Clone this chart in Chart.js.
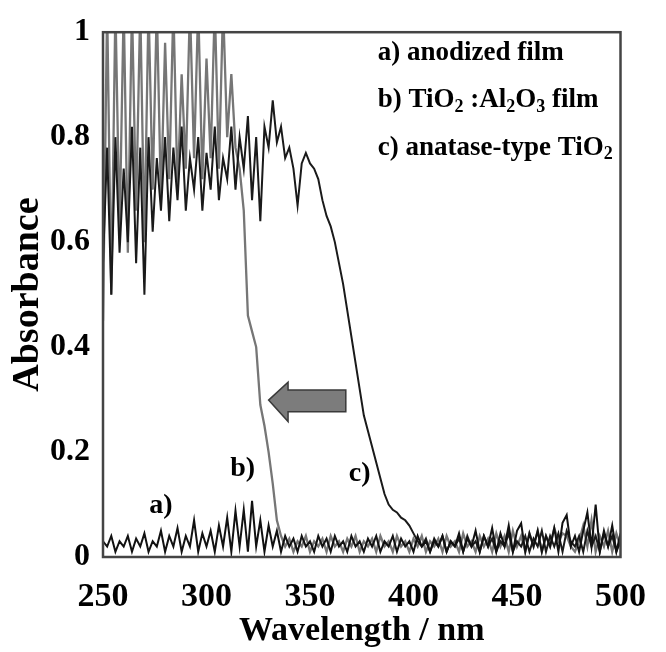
<!DOCTYPE html>
<html>
<head>
<meta charset="utf-8">
<script src="https://cdn.jsdelivr.net/npm/chart.js@4"></script>
<style>
  html, body { margin: 0; padding: 0; background: #fff; }
  #wrap { width: 666px; height: 652px; }
</style>
</head>
<body>
<div id="wrap"><canvas id="myChart" width="666" height="652"></canvas></div>
<script>
// wavelengths (nm), one reading every 2 nm
const wavelengths = [
  250, 252, 254, 256, 258, 260, 262, 264, 266, 268,
  270, 272, 274, 276, 278, 280, 282, 284, 286, 288,
  290, 292, 294, 296, 298, 300, 302, 304, 306, 308,
  310, 312, 314, 316, 318, 320, 322, 324, 326, 328,
  330, 332, 334, 336, 338, 340, 342, 344, 346, 348,
  350, 352, 354, 356, 358, 360, 362, 364, 366, 368,
  370, 372, 374, 376, 378, 380, 382, 384, 386, 388,
  390, 392, 394, 396, 398, 400, 402, 404, 406, 408,
  410, 412, 414, 416, 418, 420, 422, 424, 426, 428,
  430, 432, 434, 436, 438, 440, 442, 444, 446, 448,
  450, 452, 454, 456, 458, 460, 462, 464, 466, 468,
  470, 472, 474, 476, 478, 480, 482, 484, 486, 488,
  490, 492, 494, 496, 498, 500
];

// a) anodized film
const anodizedFilm = [
  0.03, 0.02, 0.04, 0.01, 0.03, 0.02, 0.04, 0.01, 0.035, 0.02,
  0.045, 0.01, 0.03, 0.02, 0.05, 0.01, 0.04, 0.02, 0.055, 0.01,
  0.04, 0.02, 0.07, 0.01, 0.045, 0.02, 0.05, 0.01, 0.06, 0.02,
  0.075, 0.01, 0.088, 0.02, 0.09, 0.01, 0.107, 0.02, 0.07, 0.01,
  0.06, 0.02, 0.05, 0.01, 0.04, 0.02, 0.035, 0.01, 0.04, 0.02,
  0.03, 0.01, 0.04, 0.02, 0.035, 0.01, 0.04, 0.02, 0.03, 0.01,
  0.04, 0.02, 0.03, 0.01, 0.035, 0.02, 0.04, 0.01, 0.03, 0.02,
  0.04, 0.01, 0.035, 0.02, 0.03, 0.01, 0.04, 0.02, 0.03, 0.01,
  0.035, 0.02, 0.04, 0.01, 0.03, 0.02, 0.045, 0.01, 0.035, 0.02,
  0.05, 0.01, 0.04, 0.02, 0.055, 0.01, 0.045, 0.02, 0.06, 0.01,
  0.05, 0.064, 0.01, 0.045, 0.02, 0.05, 0.01, 0.04, 0.02, 0.055,
  0.01, 0.065, 0.08, 0.02, 0.04, 0.01, 0.05, 0.085, 0.02, 0.1,
  0.01, 0.05, 0.02, 0.06, 0.01, 0.045
];

// b) TiO2:Al2O3 film (values above 1 are cut off by the frame)
const tioAlFilm = [
  0.45, 1.05, 0.5, 1.05, 0.62, 1.05, 0.58, 1.05, 0.66, 1.05,
  0.6, 1.05, 0.7, 1.05, 0.68, 0.98, 0.72, 1.05, 0.7, 0.92,
  0.74, 1.05, 0.76, 1.05, 0.72, 0.95, 0.76, 1.05, 0.74, 1.05,
  0.8, 0.92, 0.78, 0.74, 0.66, 0.46, 0.43, 0.4, 0.29, 0.25,
  0.2, 0.14, 0.07, 0.04, 0.02, 0.035, 0.01, 0.03, 0.02, 0.04,
  0.01, 0.03, 0.02, 0.035, 0.01, 0.04, 0.02, 0.03, 0.01, 0.035,
  0.02, 0.04, 0.01, 0.03, 0.02, 0.035, 0.01, 0.04, 0.02, 0.03,
  0.01, 0.04, 0.02, 0.03, 0.01, 0.035, 0.02, 0.04, 0.01, 0.03,
  0.02, 0.035, 0.01, 0.04, 0.02, 0.03, 0.01, 0.045, 0.02, 0.03,
  0.01, 0.04, 0.02, 0.035, 0.01, 0.045, 0.02, 0.04, 0.01, 0.05,
  0.02, 0.04, 0.01, 0.045, 0.02, 0.05, 0.01, 0.04, 0.02, 0.055,
  0.03, 0.045, 0.04, 0.02, 0.01, 0.03, 0.06, 0.02, 0.07, 0.01,
  0.04, 0.02, 0.05, 0.01, 0.045, 0.02
];

// c) anatase-type TiO2
const anatase = [
  0.56, 0.78, 0.5, 0.8, 0.58, 0.74, 0.6, 0.82, 0.56, 0.78,
  0.5, 0.8, 0.62, 0.76, 0.66, 0.8, 0.64, 0.78, 0.68, 0.82,
  0.66, 0.76, 0.7, 0.8, 0.66, 0.77, 0.7, 0.82, 0.68, 0.76,
  0.72, 0.82, 0.7, 0.8, 0.74, 0.84, 0.68, 0.8, 0.64, 0.82,
  0.78, 0.87, 0.79, 0.82, 0.76, 0.78, 0.74, 0.67, 0.75, 0.77,
  0.75, 0.74, 0.72, 0.68, 0.65, 0.63, 0.6, 0.56, 0.52, 0.47,
  0.42, 0.37, 0.32, 0.27, 0.24, 0.21, 0.18, 0.15, 0.12, 0.1,
  0.09, 0.085, 0.075, 0.07, 0.06, 0.045, 0.03, 0.02, 0.035, 0.01,
  0.03, 0.02, 0.04, 0.01, 0.03, 0.02, 0.035, 0.01, 0.04, 0.02,
  0.03, 0.01, 0.04, 0.02, 0.035, 0.01, 0.03, 0.02, 0.045, 0.01,
  0.03, 0.02, 0.04, 0.01, 0.035, 0.02, 0.05, 0.01, 0.04, 0.02,
  0.045, 0.01, 0.05, 0.03, 0.02, 0.04, 0.01, 0.05, 0.02, 0.04,
  0.01, 0.045, 0.02, 0.04, 0.01, 0.03
];

const yTicks = [0, 0.2, 0.4, 0.6, 0.8, 1];

// text annotations, placed in data units
const curveLabels = [
  { text: 'a)', x: 278, y: 0.098 },
  { text: 'b)', x: 317.5, y: 0.168 },
  { text: 'c)', x: 374, y: 0.158 }
];
const legendLines = [
  { y: 0.96, parts: [['a) anodized film', 0]] },
  { y: 0.87, parts: [['b) TiO', 0], ['2', 1], [' :Al', 0], ['2', 1], ['O', 0], ['3', 1], [' film', 0]] },
  { y: 0.78, parts: [['c) anatase-type TiO', 0], ['2', 1]] }
];
const legendX = 382.7;
// arrow pointing from c) towards b)
const arrowShape = [
  [330, 0.299], [339.4, 0.333], [339.4, 0.318], [367.3, 0.318],
  [367.3, 0.277], [339.4, 0.277], [339.4, 0.258]
];

const FONT = '"Liberation Serif", "Times New Roman", serif';

function toPoints(values) {
  return wavelengths.map((w, i) => ({ x: w, y: values[i] }));
}

// frame, arrow and labels drawn on top of the curves
const decorPlugin = {
  id: 'decor',
  afterDatasetsDraw(chart) {
    const { ctx, chartArea: a, scales: { x, y } } = chart;
    ctx.save();

    // arrow
    ctx.beginPath();
    arrowShape.forEach(([px, py], i) => {
      const X = x.getPixelForValue(px), Y = y.getPixelForValue(py);
      if (i === 0) ctx.moveTo(X, Y); else ctx.lineTo(X, Y);
    });
    ctx.closePath();
    ctx.fillStyle = '#7c7c7c';
    ctx.fill();
    ctx.strokeStyle = '#3a3a3a';
    ctx.lineWidth = 1.5;
    ctx.stroke();

    // frame
    ctx.strokeStyle = '#444';
    ctx.lineWidth = 2.5;
    ctx.strokeRect(a.left, a.top, a.right - a.left, a.bottom - a.top);

    ctx.fillStyle = '#000';
    ctx.textBaseline = 'middle';

    // a) b) c) next to the curves
    ctx.font = 'bold 28px ' + FONT;
    ctx.textAlign = 'center';
    curveLabels.forEach(l => {
      ctx.fillText(l.text, x.getPixelForValue(l.x), y.getPixelForValue(l.y));
    });

    // legend text with subscripts
    ctx.textAlign = 'left';
    legendLines.forEach(line => {
      let px = x.getPixelForValue(legendX);
      const py = y.getPixelForValue(line.y);
      line.parts.forEach(([t, sub]) => {
        ctx.font = sub ? 'bold 18px ' + FONT : 'bold 27px ' + FONT;
        ctx.fillText(t, px, sub ? py + 7 : py);
        px += ctx.measureText(t).width;
      });
    });

    ctx.restore();
  }
};

const ctx = document.getElementById('myChart').getContext('2d');
const myChart = new Chart(ctx, {
  type: 'line',
  data: {
    datasets: [
      {
        label: 'b) TiO2:Al2O3 film',
        data: toPoints(tioAlFilm),
        borderColor: '#767676',
        borderWidth: 2.3,
        order: 3
      },
      {
        label: 'c) anatase-type TiO2',
        data: toPoints(anatase),
        borderColor: '#1a1a1a',
        borderWidth: 2,
        order: 2
      },
      {
        label: 'a) anodized film',
        data: toPoints(anodizedFilm),
        borderColor: '#111',
        borderWidth: 2,
        order: 1
      }
    ]
  },
  options: {
    responsive: false,
    animation: false,
    devicePixelRatio: 1,
    layout: { padding: { top: 26, right: 26, left: 0, bottom: 0 } },
    elements: { point: { radius: 0 }, line: { tension: 0 } },
    plugins: { legend: { display: false }, tooltip: { enabled: false } },
    scales: {
      x: {
        type: 'linear',
        min: 250,
        max: 500,
        grid: { display: false, drawTicks: false },
        border: { display: false },
        ticks: {
          stepSize: 50,
          padding: 20,
          color: '#000',
          font: { family: FONT, size: 34, weight: 'bold' }
        },
        title: {
          display: true,
          text: 'Wavelength / nm',
          color: '#000',
          padding: { top: 0, bottom: 0 },
          font: { family: FONT, size: 34, weight: 'bold' }
        },
        afterFit: s => { s.height = 95; }
      },
      y: {
        min: 0,
        max: 1,
        afterBuildTicks: s => { s.ticks = yTicks.map(v => ({ value: v })); },
        grid: { display: false, drawTicks: false },
        border: { display: false },
        ticks: {
          padding: 13,
          color: '#000',
          font: { family: FONT, size: 32, weight: 'bold' },
          callback: v => String(+v.toFixed(1))
        },
        title: {
          display: true,
          text: 'Absorbance',
          color: '#000',
          padding: { top: 5, bottom: 0 },
          font: { family: FONT, size: 38, weight: 'bold' }
        },
        afterFit: s => { s.width = 103; }
      }
    }
  },
  plugins: [decorPlugin]
});
</script>
</body>
</html>
